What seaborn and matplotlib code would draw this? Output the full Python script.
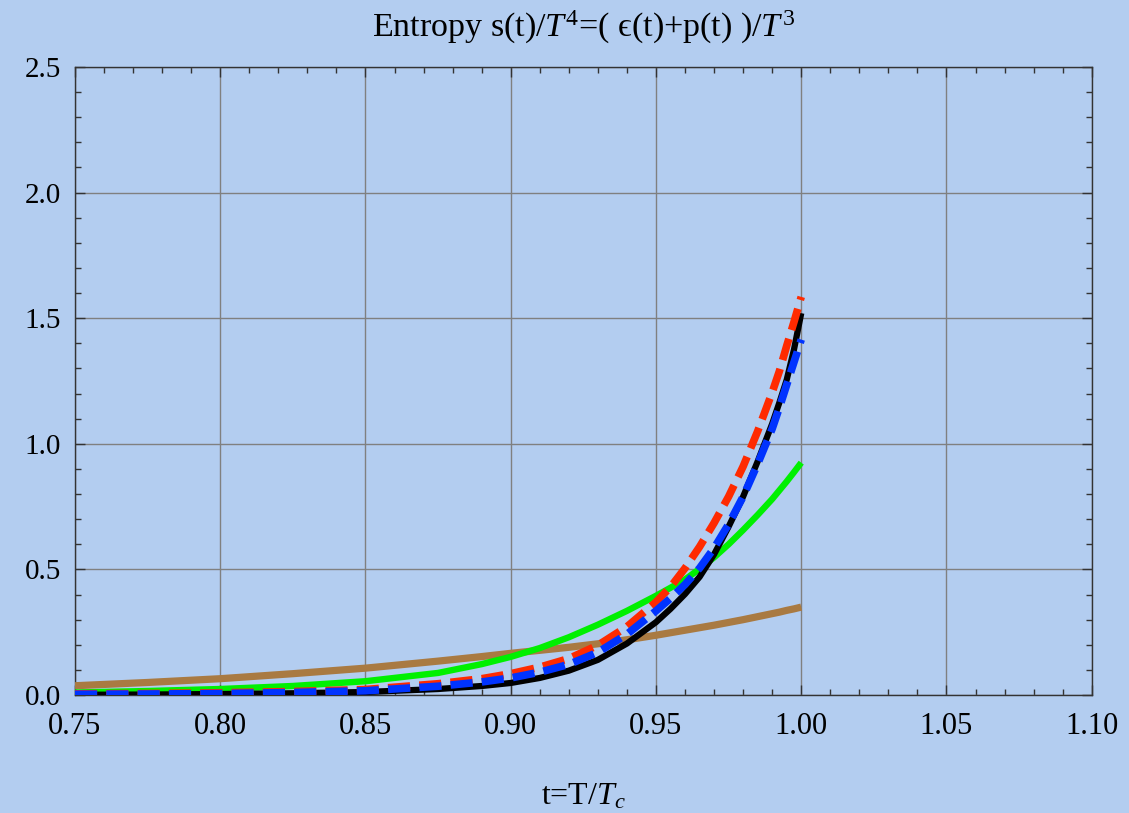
import numpy as np
import pandas as pd
import matplotlib
matplotlib.use("Agg")
import matplotlib.pyplot as plt
from matplotlib.ticker import MultipleLocator
import seaborn as sns

# ---- data ----
t = [0.75, 0.775, 0.80, 0.825, 0.85, 0.875, 0.89, 0.90, 0.91, 0.92, 0.93, 0.94,
     0.95, 0.955, 0.96, 0.965, 0.97, 0.975, 0.98, 0.985, 0.99, 0.9925, 0.995,
     0.9975, 1.0]
s_brown = [0.037, 0.050, 0.065, 0.085, 0.107, 0.135, 0.153, 0.166, 0.178, 0.190,
           0.204, 0.220, 0.238, 0.248, 0.258, 0.268, 0.278, 0.289, 0.300, 0.312,
           0.324, 0.330, 0.337, 0.343, 0.350]
s_green = [0.010, 0.016, 0.024, 0.036, 0.055, 0.088, 0.123, 0.152, 0.187, 0.230,
           0.280, 0.335, 0.395, 0.427, 0.460, 0.502, 0.548, 0.600, 0.657, 0.717,
           0.780, 0.815, 0.850, 0.887, 0.925]
s_black = [0.001, 0.002, 0.004, 0.007, 0.012, 0.024, 0.036, 0.048, 0.068, 0.097,
           0.140, 0.205, 0.290, 0.343, 0.402, 0.470, 0.560, 0.670, 0.790, 0.930,
           1.080, 1.165, 1.255, 1.375, 1.520]
s_red = [0.005, 0.006, 0.009, 0.014, 0.022, 0.045, 0.065, 0.085, 0.111, 0.145,
         0.198, 0.272, 0.370, 0.430, 0.505, 0.590, 0.685, 0.790, 0.910, 1.050,
         1.205, 1.290, 1.390, 1.485, 1.585]
s_blue = [0.003, 0.004, 0.006, 0.010, 0.017, 0.035, 0.052, 0.068, 0.091, 0.122,
          0.170, 0.242, 0.335, 0.385, 0.440, 0.505, 0.585, 0.680, 0.790, 0.920,
          1.060, 1.145, 1.235, 1.325, 1.415]

xticks = [0.75, 0.80, 0.85, 0.90, 0.95, 1.00, 1.05, 1.10]
yticks = [0.0, 0.5, 1.0, 1.5, 2.0, 2.5]
title = "Entropy s(t)/$T^4$=( \u03f5(t)+p(t) )/$T^3$"
xlabel = "t=T/$T_c$"

bg = "#b3cdf0"
sns.set_theme(style="ticks")
plt.rcParams["font.family"] = ["Liberation Serif", "DejaVu Serif"]
plt.rcParams["mathtext.fontset"] = "custom"
plt.rcParams["mathtext.it"] = "Liberation Serif:italic"
plt.rcParams["mathtext.rm"] = "Liberation Serif"
plt.rcParams["text.color"] = "black"

fig = plt.figure(figsize=(11.29, 8.13), dpi=100, facecolor=bg)
ax = fig.add_axes([0.0664, 0.1451, 0.9006, 0.7725])
ax.set_facecolor(bg)

df = pd.DataFrame({"t": t, "brown": s_brown, "green": s_green, "black": s_black,
                   "red": s_red, "blue": s_blue})

sns.lineplot(data=df, x="t", y="brown", ax=ax, color="#a97a42", lw=5.2,
             solid_capstyle="butt", zorder=3)
sns.lineplot(data=df, x="t", y="green", ax=ax, color="#00f000", lw=4.6,
             solid_capstyle="butt", solid_joinstyle="round", zorder=3)
sns.lineplot(data=df, x="t", y="black", ax=ax, color="black", lw=4.5,
             solid_capstyle="butt", solid_joinstyle="round", zorder=4)
sns.lineplot(data=df, x="t", y="red", ax=ax, color="#ff2a00", lw=5.5,
             linestyle=(0, (2.9, 1.2)), zorder=5)
sns.lineplot(data=df, x="t", y="blue", ax=ax, color="#0033ff", lw=5.5,
             linestyle=(0, (2.9, 1.2)), zorder=6)

ax.set_xlim(0.75, 1.10)
ax.set_ylim(0.0, 2.5)
ax.set_xticks(xticks)
ax.set_xticklabels([f"{v:.2f}" for v in xticks])
ax.set_yticks(yticks)
ax.set_yticklabels([f"{v:.1f}" for v in yticks])
ax.xaxis.set_minor_locator(MultipleLocator(0.01))
ax.yaxis.set_minor_locator(MultipleLocator(0.1))
ax.tick_params(which="both", direction="in", top=True, right=True,
               colors="#333333", labelcolor="black", width=1.0)
ax.tick_params(axis="x", labelsize=22, pad=12)
ax.tick_params(axis="y", labelsize=21, pad=10)
ax.tick_params(which="major", length=7)
ax.tick_params(which="minor", length=4)
ax.grid(True, which="major", color="#808080", lw=1.0, zorder=1)
for sp in ax.spines.values():
    sp.set_color("#333333")
    sp.set_linewidth(1.0)

ax.set_xlabel(xlabel, fontsize=23, labelpad=30, color="black")
ax.set_ylabel("")
ax.set_title(title, fontsize=24.5, pad=22, color="black")

fig.savefig("out.png", dpi=100, facecolor=bg)
